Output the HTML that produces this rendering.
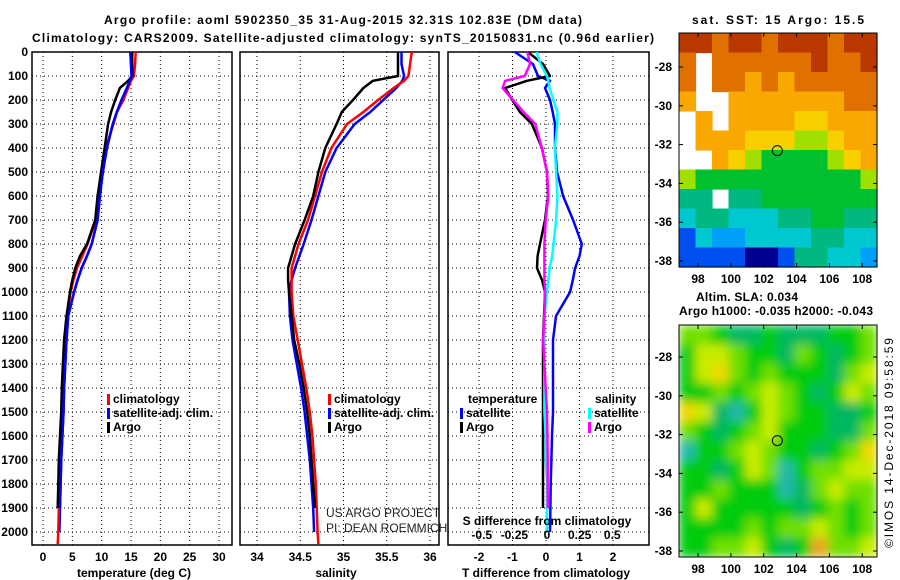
<!DOCTYPE html>
<html><head><meta charset="utf-8"><style>
body{margin:0;background:#fff}
svg{display:block;font-family:"Liberation Sans",sans-serif}
.b{font-weight:bold;font-size:12px}
</style></head><body>
<svg id="fig" width="900" height="580" viewBox="0 0 900 580">
<defs>
<filter id="blur" x="0" y="0" width="1" height="1"><feGaussianBlur stdDeviation="5" edgeMode="duplicate"/></filter>
<clipPath id="slaclip"><rect x="679" y="325" width="198" height="232"/></clipPath>
</defs>
<text x="343" y="24" text-anchor="middle" class="b" font-size="13" textLength="478">Argo profile: aoml 5902350_35 31-Aug-2015 32.31S 102.83E (DM data)</text>
<text x="343" y="42" text-anchor="middle" class="b" font-size="13" textLength="622">Climatology: CARS2009. Satellite-adjusted climatology: synTS_20150831.nc (0.96d earlier)</text>
<text x="778" y="24" text-anchor="middle" class="b" textLength="172">sat. SST: 15 Argo: 15.5</text>
<text x="696" y="301" class="b" textLength="102">Altim. SLA: 0.034</text>
<text x="679" y="315" class="b" textLength="194">Argo h1000: -0.035 h2000: -0.043</text>
<text transform="translate(893,548) rotate(-90)" font-size="12" textLength="210">©IMOS 14-Dec-2018 09:58:59</text>
<text x="326" y="517" font-size="12" fill="#222">US ARGO PROJECT</text>
<text x="326" y="532" font-size="12" fill="#222">PI: DEAN ROEMMICH</text>
<g id="g"></g>
</svg>
<script>
// depth grid (shared)
const depths=[0,50,100,120,150,200,250,300,400,500,600,700,800,850,900,950,1000,1100,1200,1300,1400,1500,1600,1700,1800,1900,2000,2050];
const depthTicks=[0,100,200,300,400,500,600,700,800,900,1000,1100,1200,1300,1400,1500,1600,1700,1800,1900,2000];
// temperature profiles
const tClim=[15.8,15.7,15.5,15.0,14.5,13.7,12.6,12.0,10.7,9.9,9.4,9.0,7.6,6.7,5.8,5.2,4.7,4.1,3.9,3.7,3.5,3.3,3.1,3.0,2.8,2.7,2.6,2.5];
const tSat=[14.9,15.0,15.1,14.8,14.3,13.4,12.6,11.9,10.9,10.2,9.7,9.3,8.3,7.5,6.6,5.9,5.3,4.3,4.0,3.8,3.6,3.5,3.3,3.1,3.0,2.9,2.8,2.8];
const tArgo=[15.2,15.2,15.2,14.5,13.1,12.3,11.6,11.1,10.5,9.9,9.3,8.9,7.5,6.3,5.5,5.0,4.6,4.0,3.6,3.4,3.2,3.1,2.9,2.7,2.6,2.5,2.4,2.4];
const tTicks=[0,5,10,15,20,25,30];
// salinity profiles
const sClim=[35.79,35.77,35.75,35.70,35.58,35.40,35.23,35.04,34.86,34.75,34.67,34.59,34.48,34.44,34.40,34.40,34.40,34.42,34.47,34.52,34.57,34.61,34.64,34.66,34.68,34.69,34.70,34.71];
const sSat=[35.67,35.67,35.70,35.68,35.61,35.46,35.31,35.13,34.92,34.79,34.71,34.63,34.54,34.49,34.44,34.40,34.37,34.38,34.41,34.46,34.51,34.55,34.58,34.61,34.63,34.65,34.66,34.66];
const sArgo=[35.63,35.63,35.63,35.34,35.23,35.11,34.98,34.92,34.79,34.71,34.65,34.55,34.44,34.40,34.36,34.36,34.37,34.40,34.43,34.49,34.54,34.58,34.61,34.63,34.65,34.67,34.68,34.68];
const sTicks=[34,34.5,35,35.5,36];
const sTickLabels=["34","34.5","35","35.5","36"];
// differences from climatology
const dTSat=[-0.93,-0.39,-0.24,0.12,-0.03,0.12,0.2,0.27,0.27,0.33,0.51,0.81,1.07,1.0,0.87,0.8,0.72,0.30,0.21,0.21,0.21,0.21,0.18,0.16,0.14,0.13,0.12,0.12];
const dTArgo=[-0.54,-0.09,0.12,-0.57,-1.22,-1.01,-0.78,-0.42,-0.12,0.03,0.06,-0.03,-0.18,-0.25,-0.27,-0.12,-0.03,-0.06,-0.09,-0.09,-0.09,-0.09,-0.09,-0.09,-0.09,-0.09,-0.09,-0.09];
const dSSat=[-0.08,-0.05,0,0.01,0.02,0.05,0.08,0.08,0.06,0.07,0.08,0.07,0.05,0.04,0.02,0.01,0,-0.02,-0.02,-0.02,-0.02,-0.02,-0.01,-0.01,0,0,0,0];
const dSArgo=[-0.15,-0.13,-0.17,-0.32,-0.34,-0.26,-0.18,-0.09,-0.04,0,0.01,-0.01,-0.02,-0.02,-0.02,-0.02,-0.015,-0.02,-0.03,-0.02,-0.01,0,0.003,0.005,0.005,0.006,0.007,0.007];
const dTTicks=[-2,-1,0,1,2];
const dSTicks=[-0.5,-0.25,0,0.25,0.5];
const dSTickLabels=["-0.5","-0.25","0","0.25","0.5"];
// SST map: colour class per cell (rows north->south), -1 = missing
const sstGrid=[
[10,10,9,10,10,9,10,10,10,9,10,10],
[9,-1,9,9,9,9,9,9,10,9,9,10],
[9,-1,9,9,8,9,8,9,9,9,9,9],
[8,-1,-1,8,8,8,8,8,8,8,9,9],
[-1,8,-1,8,8,8,8,7,7,8,8,8],
[-1,8,8,8,7,7,7,6,6,7,8,8],
[-1,-1,8,7,6,5,5,5,5,6,7,8],
[6,5,5,5,5,5,5,5,5,5,5,6],
[4,4,-1,4,4,5,5,5,5,5,5,5],
[3,4,4,3,3,3,4,4,5,5,4,4],
[1,3,2,2,3,3,3,3,4,4,3,3],
[1,1,1,1,0,0,1,4,4,3,3,2]];
// SLA map classes
const slaGrid=[
[3,3,2,1,1,2,1,1,1,2,2,3],
[2,4,4,3,2,2,1,3,2,1,2,3],
[2,4,5,3,2,3,2,2,2,1,3,4],
[2,2,3,2,3,4,3,2,1,2,4,3],
[5,4,1,0,2,4,3,2,2,1,1,2],
[3,2,1,2,3,4,2,2,2,1,1,3],
[0,2,2,3,4,3,2,2,1,2,3,5],
[2,2,1,2,4,3,0,2,3,3,4,4],
[2,2,3,2,2,2,0,1,3,4,3,3],
[2,4,2,2,2,2,2,1,2,3,2,3],
[2,2,2,2,3,2,3,3,4,3,2,3],
[2,2,3,3,4,2,1,2,6,3,3,4]];
const lonTicks=[98,100,102,104,106,108];
const latTicks=[-28,-30,-32,-34,-36,-38];
const floatLon=102.83, floatLat=-32.31;

const NS="http://www.w3.org/2000/svg";
const G=document.getElementById('g');
function el(t,a,p){const e=document.createElementNS(NS,t);for(const k in a)e.setAttribute(k,a[k]);(p||G).appendChild(e);return e;}
const yD=d=>52+d*0.24;
function lin(d0,d1,r0,r1){return v=>r0+(v-d0)*(r1-r0)/(d1-d0);}
const xT=lin(0,30,43,219), xS=lin(34,36,257,430), xDT=lin(0,1,546,579.5), xDS=lin(0,1,547,677.5);

function panel(name,x0,x1,vgrid){
  for(const d of depthTicks){const l=el('line',{x1:x0,x2:x1,y1:yD(d),y2:yD(d),stroke:'#000','stroke-width':1,'stroke-dasharray':'1 3'});
  }
  for(const x of vgrid){const l=el('line',{x1:x,x2:x,y1:52,y2:545,stroke:'#000','stroke-width':1,'stroke-dasharray':'1 3'});
  }
  const r=el('rect',{x:x0,y:52,width:x1-x0,height:493,fill:'none',stroke:'#000','stroke-width':1.5});
  
}
function line(name,xs,vals,fx,color,maxD){
  let pts=[];vals.forEach((v,i)=>{if(maxD===undefined||depths[i]<=maxD)pts.push(fx(v).toFixed(1)+','+yD(depths[i]).toFixed(1));});
  const p=el('polyline',{points:pts.join(' '),fill:'none',stroke:color,'stroke-width':2.5,'stroke-linejoin':'round'});
  
}
function txt(s,x,y,anchor,name,cls){const t=el('text',{x:x,y:y,'text-anchor':anchor||'start',class:cls||'b'});t.textContent=s;
  return t;}
for(const d of depthTicks) txt(String(d),28,yD(d)+4,'end','depth-tick-label');
// panel 1
panel('temperature-panel',32,232,tTicks.map(xT));
line('temp-sat-line',0,tSat,xT,'#0000ff',2000);
line('temp-clim-line',0,tClim,xT,'#ff0000',2060);
line('temp-argo-line',0,tArgo,xT,'#000',1990);
line('temp-sat-line-top',0,tSat,xT,'#0000ff',1990);
tTicks.forEach(v=>txt(String(v),xT(v),561,'middle','temp-tick-label'));
txt('temperature (deg C)',134,577,'middle','temp-axis-title');
// panel 2
panel('salinity-panel',240,439,sTicks.map(xS));
line('sal-sat-line',0,sSat,xS,'#0000ff',2000);
line('sal-clim-line',0,sClim,xS,'#ff0000',2060);
line('sal-argo-line',0,sArgo,xS,'#000',1990);
sTicks.forEach((v,i)=>txt(sTickLabels[i],xS(v),561,'middle','sal-tick-label'));
txt('salinity',336,577,'middle','sal-axis-title');
function leg(x,y,c,s,name){const r=el('rect',{x:x,y:y-9,width:3,height:11,fill:c});
  txt(s,x+6,y,'start',name);}
leg(107,403,'#ff0000','climatology','legend-climatology');
leg(107,417,'#0000ff','satellite-adj. clim.','legend-satellite-adj');
leg(107,431,'#000','Argo','legend-argo');
leg(328,403,'#ff0000','climatology','legend2-climatology');
leg(328,417,'#0000ff','satellite-adj. clim.','legend2-satellite-adj');
leg(328,431,'#000','Argo','legend2-argo');
// panel 3
panel('difference-panel',448,649,dTTicks.map(xDT));
line('dT-sat-line',0,dTSat,xDT,'#0000ff',2000);
line('dT-argo-line',0,dTArgo,xDT,'#000',1990);
line('dS-sat-line',0,dSSat,xDS,'#00ffff',2000);
line('dS-argo-line',0,dSArgo,xDS,'#ff00ff',1990);
dTTicks.forEach(v=>txt(String(v),xDT(v),561,'middle','dT-tick-label'));
txt('T difference from climatology',546,577,'middle','dT-axis-title');
dSTicks.forEach((v,i)=>txt(dSTickLabels[i],xDS(v),539,'middle','dS-tick-label'));
txt('S difference from climatology',547,525,'middle','dS-axis-title');
txt('temperature',468,403,'start','legend3-temperature-header');
leg(460,417,'#0000ff','satellite','legend3-t-satellite');
leg(460,431,'#000','Argo','legend3-t-argo');
txt('salinity',595,403,'start','legend3-salinity-header');
leg(588,417,'#00ffff','satellite','legend3-s-satellite');
leg(588,431,'#ff00ff','Argo','legend3-s-argo');
// maps
const sstPal=['#000090','#0050f0','#00a0f8','#00c8d0','#00b880','#00c030','#a0e000','#f8d000','#f8a800','#e07000','#b83800'];
const slaPal=['#20b8a8','#00b860','#00cc10','#70e000','#c8ec00','#f0d800','#f0a020'];
function map(name,top,grid,pal,smooth){
  const x0=679,x1=877,bottom=top+(top<100?234:232);
  const xL=lin(96.84,108.9,x0,x1), yL=lin(-28,-38,top+(top<100?34:32),top+(top<100?228:226));
  const rows=grid.length, cols=grid[0].length;
  const cw=(x1-x0)/cols, ch=(bottom-top)/rows;
  let cont=G;
  if(smooth){const w=el('g',{'clip-path':'url(#slaclip)'});
    cont=el('g',{filter:'url(#blur)'},w);}
  grid.forEach((row,r)=>row.forEach((v,c)=>{if(v<0)return;
    const e=el('rect',{x:(x0+c*cw).toFixed(2),y:(top+r*ch).toFixed(2),width:(cw+0.6).toFixed(2),height:(ch+0.6).toFixed(2),fill:pal[v]},cont);
    }));
  const f=el('rect',{x:x0,y:top,width:x1-x0,height:bottom-top,fill:'none',stroke:'#000','stroke-width':1});
  
  lonTicks.forEach(v=>{el('line',{x1:xL(v),x2:xL(v),y1:bottom,y2:bottom-4,stroke:'#000'});el('line',{x1:xL(v),x2:xL(v),y1:top,y2:top+4,stroke:'#000'});
    txt(String(v),xL(v),bottom+16,'middle',name+'-lon-label');});
  latTicks.forEach(v=>{el('line',{x1:x0,x2:x0+4,y1:yL(v),y2:yL(v),stroke:'#000'});el('line',{x1:x1,x2:x1-4,y1:yL(v),y2:yL(v),stroke:'#000'});
    txt(String(v),672,yL(v)+4,'end',name+'-lat-label');});
  const m=el('circle',{cx:xL(floatLon),cy:yL(floatLat),r:5,fill:'none',stroke:'#000','stroke-width':1});
  
}
map('sst-map',33,sstGrid,sstPal,false);
map('sla-map',325,slaGrid,slaPal,true);
</script>
</body></html>
